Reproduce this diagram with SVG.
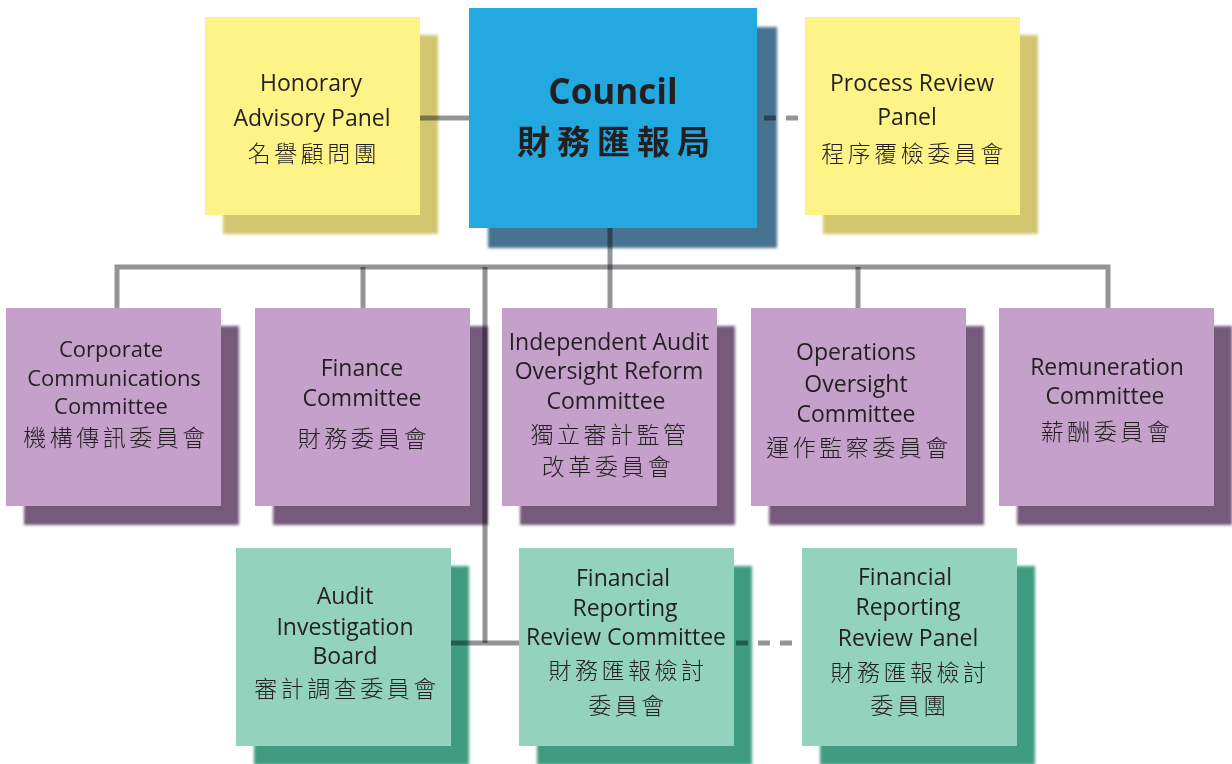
<svg xmlns="http://www.w3.org/2000/svg" width="1232" height="764" viewBox="0 0 1232 764">
  <style>
    .en { font-family: "Open Sans", "Noto Sans", "Liberation Sans", sans-serif; font-size: 23px; fill: #231f20; text-anchor: middle; }
    .en.tight { font-size: 22px; }
    .zh { font-family: "Noto Sans CJK TC", "Noto Sans CJK SC", sans-serif; font-size: 23px; letter-spacing: 3.5px; fill: #231f20; text-anchor: middle; font-weight: 300; }
    .title { font-family: "Open Sans", "Noto Sans", "Liberation Sans", sans-serif; font-size: 35px; font-weight: 700; fill: #231f20; text-anchor: middle; }
    .title-zh { font-family: "Noto Sans CJK TC", "Noto Sans CJK SC", sans-serif; font-size: 33px; font-weight: 700; letter-spacing: 7px; fill: #231f20; text-anchor: middle; }
    .yellow { fill: #fef387; }
    .yellow-sh { fill: #d3c66f; }
    .blue { fill: #23a8df; }
    .blue-sh { fill: #467391; }
    .purple { fill: #c4a0cb; }
    .purple-sh { fill: #745a7b; }
    .green { fill: #93d2bd; }
    .green-sh { fill: #3f9c80; }
    .line { stroke: #939598; stroke-width: 5; fill: none; mix-blend-mode: multiply; }
    .dash { stroke-dasharray: 12 10; }
  </style>
  <defs>
    <filter id="soft" x="-10%" y="-10%" width="120%" height="120%">
      <feGaussianBlur stdDeviation="1.5"/>
    </filter>
  </defs>

  <rect width="1232" height="764" fill="#ffffff"/>

  <!-- drop shadows -->
  <g id="shadows" filter="url(#soft)">
    <rect class="yellow-sh" x="223" y="35" width="215" height="199"/>
    <rect class="blue-sh" x="488" y="27" width="289" height="221"/>
    <rect class="yellow-sh" x="823" y="35" width="215" height="199"/>
    <rect class="purple-sh" x="24" y="326" width="215" height="199"/>
    <rect class="purple-sh" x="273" y="326" width="215" height="199"/>
    <rect class="purple-sh" x="520" y="326" width="215" height="199"/>
    <rect class="purple-sh" x="769" y="326" width="215" height="199"/>
    <rect class="purple-sh" x="1017" y="326" width="215" height="199"/>
    <rect class="green-sh" x="254" y="566" width="215" height="199"/>
    <rect class="green-sh" x="537" y="566" width="215" height="199"/>
    <rect class="green-sh" x="820" y="566" width="215" height="199"/>
  </g>

  <!-- connectors -->
  <g id="connectors">
    <line class="line" x1="420" y1="118" x2="469" y2="118"/>
    <line class="line dash" x1="764" y1="118" x2="805" y2="118"/>
    <line class="line" x1="610" y1="228" x2="610" y2="267"/>
    <polyline class="line" points="117,308 117,267 1108,267 1108,308"/>
    <line class="line" x1="363" y1="267" x2="363" y2="308"/>
    <line class="line" x1="610" y1="267" x2="610" y2="308"/>
    <line class="line" x1="858" y1="267" x2="858" y2="308"/>
    <polyline class="line" points="485,267 485,643"/>
    <line class="line" x1="451" y1="643" x2="519" y2="643"/>
    <line class="line dash" x1="736" y1="643" x2="802" y2="643"/>
  </g>

  <g id="honorary-advisory-panel">
    <rect class="yellow" x="205" y="17" width="215" height="198"/>
    <text class="en" x="311" y="91">Honorary</text>
    <text class="en" x="312" y="126">Advisory Panel</text>
    <text class="zh" x="314" y="162">名譽顧問團</text>
  </g>

  <g id="council">
    <rect class="blue" x="469" y="8" width="288" height="220"/>
    <text class="title" x="613" y="104">Council</text>
    <text class="title-zh" x="617" y="154">財務匯報局</text>
  </g>

  <g id="process-review-panel">
    <rect class="yellow" x="805" y="17" width="215" height="198"/>
    <text class="en" x="912" y="91">Process Review</text>
    <text class="en" x="907" y="125">Panel</text>
    <text class="zh" x="914" y="162">程序覆檢委員會</text>
  </g>

  <g id="corporate-communications-committee">
    <rect class="purple" x="6" y="308" width="215" height="198"/>
    <text class="en tight" x="111" y="357">Corporate</text>
    <text class="en tight" x="114" y="386">Communications</text>
    <text class="en tight" x="111" y="414">Committee</text>
    <text class="zh" x="116" y="446">機構傳訊委員會</text>
  </g>

  <g id="finance-committee">
    <rect class="purple" x="255" y="308" width="215" height="198"/>
    <text class="en" x="362" y="376">Finance</text>
    <text class="en" x="362" y="406">Committee</text>
    <text class="zh" x="364" y="447">財務委員會</text>
  </g>

  <g id="independent-audit-oversight-reform-committee">
    <rect class="purple" x="502" y="308" width="215" height="198"/>
    <text class="en" x="609" y="350">Independent Audit</text>
    <text class="en" x="609" y="379">Oversight Reform</text>
    <text class="en" x="606" y="409">Committee</text>
    <text class="zh" x="610" y="443">獨立審計監管</text>
    <text class="zh" x="608" y="475">改革委員會</text>
  </g>

  <g id="operations-oversight-committee">
    <rect class="purple" x="751" y="308" width="215" height="198"/>
    <text class="en" x="856" y="360">Operations</text>
    <text class="en" x="856" y="392">Oversight</text>
    <text class="en" x="856" y="422">Committee</text>
    <text class="zh" x="859" y="456">運作監察委員會</text>
  </g>

  <g id="remuneration-committee">
    <rect class="purple" x="999" y="308" width="215" height="198"/>
    <text class="en" x="1107" y="375">Remuneration</text>
    <text class="en" x="1105" y="404">Committee</text>
    <text class="zh" x="1107" y="440">薪酬委員會</text>
  </g>

  <g id="audit-investigation-board">
    <rect class="green" x="236" y="548" width="215" height="198"/>
    <text class="en" x="345" y="604">Audit</text>
    <text class="en" x="345" y="635">Investigation</text>
    <text class="en" x="345" y="664">Board</text>
    <text class="zh" x="347" y="697">審計調查委員會</text>
  </g>

  <g id="financial-reporting-review-committee">
    <rect class="green" x="519" y="548" width="215" height="198"/>
    <text class="en" x="623" y="586">Financial</text>
    <text class="en" x="625" y="616">Reporting</text>
    <text class="en" x="626" y="645">Review Committee</text>
    <text class="zh" x="628" y="679">財務匯報檢討</text>
    <text class="zh" x="628" y="714">委員會</text>
  </g>

  <g id="financial-reporting-review-panel">
    <rect class="green" x="802" y="548" width="215" height="198"/>
    <text class="en" x="905" y="585">Financial</text>
    <text class="en" x="908" y="615">Reporting</text>
    <text class="en" x="908" y="646">Review Panel</text>
    <text class="zh" x="910" y="681">財務匯報檢討</text>
    <text class="zh" x="910" y="714">委員團</text>
  </g>
</svg>
